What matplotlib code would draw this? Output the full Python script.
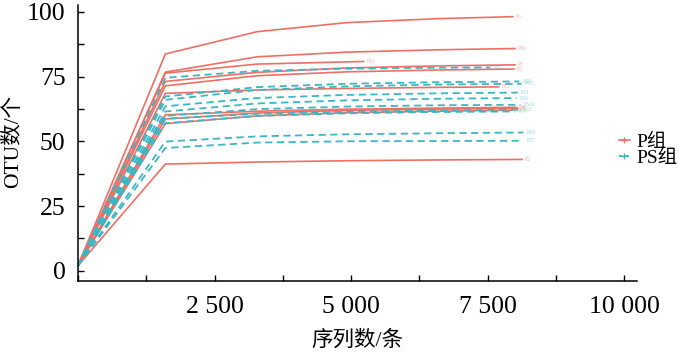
import matplotlib
matplotlib.use("Agg")
import matplotlib.pyplot as plt
from matplotlib.ticker import MultipleLocator, FuncFormatter
from matplotlib.lines import Line2D

plt.rcParams['font.family'] = ['Liberation Serif', 'Noto Sans CJK SC']

# rarefaction depths shared by all samples; last point is each sample's own depth
depth_steps = [0, 1600, 3280, 4920, 6560]

p_names = ["P6", "P16", "P15", "P1", "P3", "P12", "P4", "P7", "P9", "P2"]
p_ends = [7960, 8000, 5230, 8000, 7980, 7700, 8020, 8050, 7950, 8130]
p_values = [
    [2, 83.7, 92.3, 95.8, 97.3, 98.1],
    [2, 76.7, 82.6, 84.4, 85.3, 85.8],
    [2, 76.3, 79.8, 80.8],
    [2, 73.1, 76.6, 78.3, 79.1, 79.5],
    [2, 71.4, 75.3, 76.8, 77.5, 77.9],
    [2, 68.5, 69.8, 70.4, 70.8, 71.0],
    [2, 60.2, 61.6, 62.4, 62.8, 63.1],
    [2, 58.6, 60.9, 61.9, 62.4, 62.8],
    [2, 56.8, 59.8, 61.0, 61.6, 62.0],
    [2, 41.2, 42.0, 42.5, 42.8, 43.0],
]

ps_names = ["PS3", "PS8", "PS5", "PS1", "PS6", "PS10", "PS2", "PS4", "PS9", "PS7"]
ps_ends = [7550, 8080, 8120, 8050, 8030, 8100, 8080, 8000, 8150, 8150]
ps_values = [
    [2, 74.5, 77.2, 78.0, 78.4, 78.5],
    [2, 67.3, 70.9, 72.2, 72.8, 73.1],
    [2, 66.0, 69.8, 71.2, 71.9, 72.2],
    [2, 63.5, 66.7, 67.9, 68.5, 68.8],
    [2, 61.5, 64.6, 65.8, 66.4, 66.7],
    [2, 59.8, 62.4, 63.4, 63.9, 64.1],
    [2, 58.7, 60.6, 61.4, 61.9, 62.2],
    [2, 57.0, 59.8, 60.8, 61.3, 61.5],
    [2, 49.9, 51.9, 52.7, 53.1, 53.4],
    [2, 47.4, 49.5, 50.0, 50.1, 50.2],
]

red = "#EE6F66"
cyan = "#3CB6C2"

fig = plt.figure(figsize=(6.78, 3.57), dpi=100)
ax = fig.add_axes([0.115, 0.213, 0.825, 0.773])


def draw_group(names, ends, values, color, ls, lw):
    for name, end, vals in zip(names, ends, values):
        xs = depth_steps[:len(vals) - 1] + [end]
        ax.plot(xs, vals, color=color, ls=ls, lw=lw)
        ax.text(end + 60, vals[-1], name, color=color, alpha=0.55,
                fontsize=4, va="center", ha="left")


draw_group(p_names, p_ends, p_values, red, "-", 1.2)
draw_group(ps_names, ps_ends, ps_values, cyan, (0, (4, 2.5)), 1.3)

ax.set_xlim(0, 10240)
ax.set_ylim(-3.9, 102.6)
ax.xaxis.set_major_locator(MultipleLocator(2500))
ax.xaxis.set_minor_locator(MultipleLocator(1250))
ax.yaxis.set_major_locator(MultipleLocator(25))
ax.yaxis.set_minor_locator(MultipleLocator(12.5))
ax.xaxis.set_major_formatter(FuncFormatter(
    lambda v, p: "" if v <= 0 else f"{int(v):,}".replace(",", " ")))

for s in ["top", "right"]:
    ax.spines[s].set_visible(False)
for s in ["left", "bottom"]:
    ax.spines[s].set_linewidth(1.1)

ax.tick_params(which="both", direction="in", length=4, width=1, labelsize=18.5)
ax.tick_params(axis="x", pad=11)
ax.tick_params(axis="y", pad=9)

ax.set_xlabel("序列数/条", fontsize=15.5, labelpad=9)
fig.text(0.019, 0.605, "OTU数/个", fontsize=15.5, rotation=90,
         ha="center", va="center")

handles = [
    Line2D([], [], color=red, lw=1.2, marker="+", ms=4),
    Line2D([], [], color=cyan, lw=1.3, ls=(0, (2, 1.5)), marker="+", ms=4),
]
fig.legend(handles, ["P组", "PS组"], loc="center left",
           bbox_to_anchor=(0.898, 0.58), frameon=False,
           prop={"family": ["Liberation Serif", "Noto Sans CJK SC"], "size": 14},
           handlelength=0.6, handletextpad=0.3, labelspacing=-0.1,
           borderpad=0)

fig.savefig("out.png", dpi=100)
